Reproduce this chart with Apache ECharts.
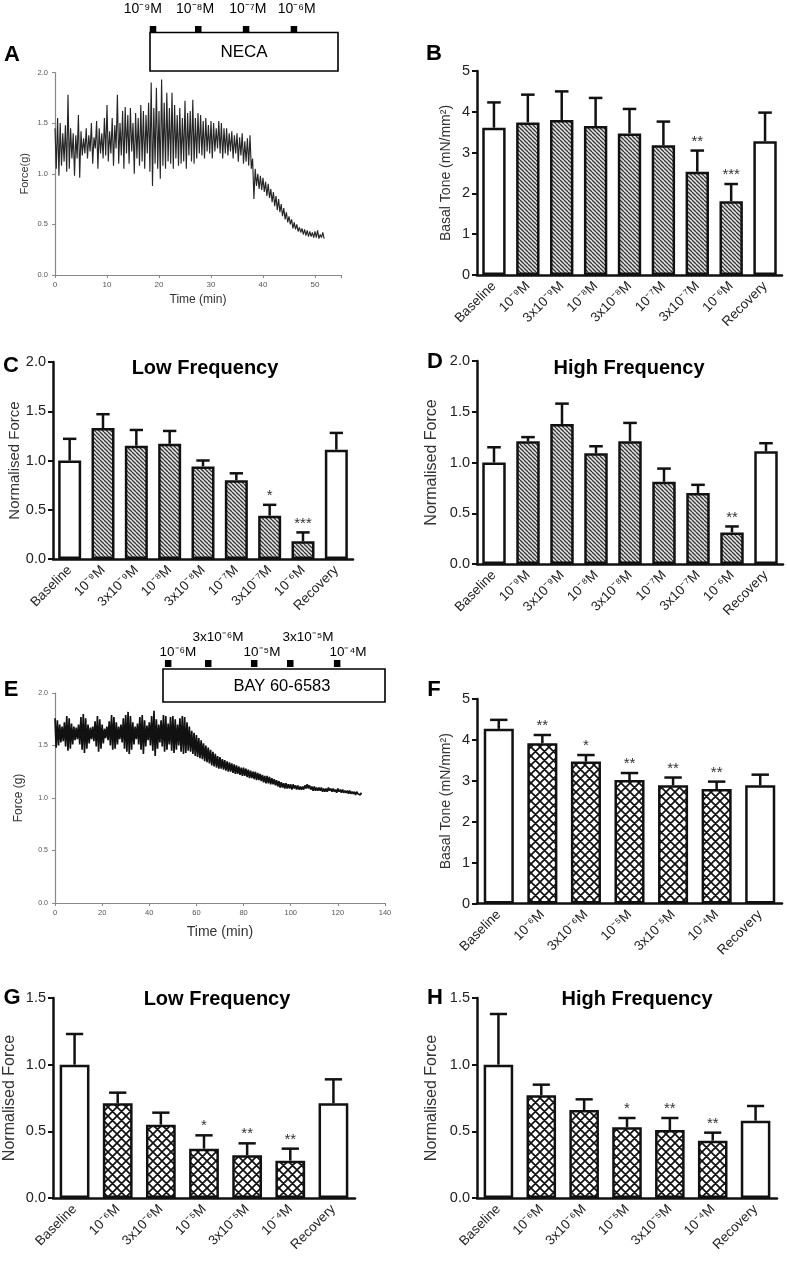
<!DOCTYPE html>
<html>
<head>
<meta charset="UTF-8">
<script src="https://cdn.jsdelivr.net/npm/echarts@6/dist/echarts.min.js"></script>
<style>
  html, body { margin: 0; padding: 0; background: #fff; }
  #main { width: 787px; height: 1262px; }
</style>
</head>
<body>
<div id="main"></div>
<script>
// ---------- data ----------
// A: NECA force trace, one sample every 0.25 min
var traceAStep = 0.25;
var traceAForce = [
  1.45,1.05,1.55,0.98,1.50,1.08,1.40,1.12,
  1.48,1.02,1.78,1.05,1.45,1.15,1.40,0.98,
  1.38,1.15,1.58,0.96,1.42,1.18,1.35,1.20,
  1.45,1.15,1.38,1.22,1.50,1.10,1.36,1.25,
  1.52,1.05,1.45,1.20,1.40,1.15,1.55,1.18,
  1.68,1.12,1.42,1.20,1.55,1.08,1.48,1.25,
  1.78,1.10,1.50,1.18,1.62,1.05,1.66,1.20,
  1.58,1.10,1.65,1.22,1.50,1.00,1.60,1.15,
  1.55,1.08,1.68,1.12,1.62,1.05,1.58,1.20,
  1.70,1.02,1.90,0.88,1.65,1.10,1.85,1.05,
  1.62,0.95,1.93,1.08,1.70,1.05,1.80,1.12,
  1.65,1.10,1.80,1.05,1.68,1.15,1.58,1.08,
  1.65,1.10,1.55,1.12,1.72,1.05,1.60,1.18,
  1.62,1.12,1.73,1.10,1.55,1.15,1.60,1.20,
  1.58,1.18,1.52,1.15,1.55,1.22,1.48,1.20,
  1.52,1.15,1.50,1.22,1.45,1.25,1.52,1.20,
  1.50,1.15,1.45,1.20,1.45,1.18,1.40,1.22,
  1.42,1.15,1.38,1.20,1.40,1.12,1.36,1.18,
  1.40,1.10,1.32,1.12,1.35,1.08,1.38,1.05,
  1.15,0.75,1.05,0.88,1.00,0.85,0.98,0.84,
  0.96,0.82,0.92,0.78,0.90,0.76,0.85,0.72,
  0.82,0.68,0.78,0.64,0.75,0.62,0.70,0.58,
  0.66,0.55,0.62,0.52,0.58,0.50,0.55,0.46,
  0.52,0.45,0.50,0.43,0.47,0.42,0.46,0.40,
  0.45,0.39,0.44,0.38,0.43,0.38,0.42,0.37,
  0.43,0.37,0.44,0.36,0.40,0.37,0.42,0.36
];
// E: BAY 60-6583 force trace, one sample every 0.5 min
var traceEStep = 0.5;
var traceEForce = [
  1.76,1.48,1.74,1.50,1.70,1.53,1.68,1.54,1.72,1.49,
  1.78,1.45,1.76,1.47,1.71,1.51,1.68,1.55,1.67,1.56,
  1.70,1.51,1.77,1.46,1.80,1.43,1.76,1.47,1.70,1.52,
  1.67,1.56,1.68,1.54,1.73,1.49,1.78,1.44,1.75,1.47,
  1.70,1.52,1.66,1.57,1.68,1.55,1.73,1.50,1.79,1.46,
  1.77,1.47,1.72,1.51,1.68,1.56,1.70,1.53,1.76,1.47,
  1.79,1.44,1.82,1.42,1.78,1.46,1.72,1.51,1.68,1.56,
  1.71,1.51,1.77,1.46,1.79,1.42,1.74,1.49,1.69,1.55,
  1.72,1.50,1.78,1.45,1.83,1.40,1.75,1.47,1.70,1.53,
  1.74,1.49,1.79,1.44,1.78,1.46,1.71,1.51,1.77,1.45,
  1.78,1.43,1.75,1.46,1.70,1.50,1.76,1.44,1.78,1.42,
  1.77,1.43,1.72,1.45,1.68,1.44,1.64,1.42,1.62,1.40,
  1.60,1.39,1.57,1.38,1.55,1.37,1.52,1.35,1.50,1.34,
  1.48,1.33,1.46,1.31,1.44,1.30,1.42,1.29,1.40,1.28,
  1.39,1.28,1.37,1.27,1.36,1.26,1.35,1.25,1.34,1.25,
  1.33,1.24,1.32,1.23,1.31,1.23,1.30,1.22,1.29,1.21,
  1.29,1.21,1.28,1.20,1.27,1.19,1.26,1.19,1.25,1.18,
  1.25,1.17,1.24,1.17,1.23,1.16,1.22,1.15,1.21,1.14,
  1.21,1.14,1.20,1.13,1.19,1.13,1.18,1.12,1.17,1.11,
  1.16,1.10,1.15,1.10,1.14,1.09,1.14,1.09,1.13,1.09,
  1.13,1.08,1.13,1.09,1.12,1.08,1.12,1.08,1.11,1.08,
  1.11,1.08,1.12,1.09,1.13,1.09,1.12,1.08,1.11,1.07,
  1.11,1.07,1.10,1.07,1.10,1.07,1.10,1.06,1.09,1.06,
  1.09,1.06,1.10,1.07,1.09,1.06,1.09,1.06,1.08,1.05,
  1.09,1.06,1.08,1.05,1.08,1.05,1.07,1.05,1.07,1.04,
  1.07,1.04,1.06,1.04,1.06,1.03,1.06,1.04,1.05,1.03,
  1.05
];
// drug additions (min)
var necaTimes = [18.8, 27.5, 36.7, 45.9];
var necaLabels = ['10⁻⁹M', '10⁻⁸M', '10⁻⁷M', '10⁻⁶M'];
var bayTimes = [47.9, 64.9, 84.4, 99.7, 119.6];
var bayLabels = ['10⁻⁶M', '3x10⁻⁶M', '10⁻⁵M', '3x10⁻⁵M', '10⁻⁴M'];

// bar panels
var necaCats = ['Baseline', '10⁻⁹M', '3x10⁻⁹M', '10⁻⁸M', '3x10⁻⁸M', '10⁻⁷M', '3x10⁻⁷M', '10⁻⁶M', 'Recovery'];
var toneNeca = [3.61, 3.74, 3.80, 3.65, 3.47, 3.18, 2.53, 1.81, 3.28];
var toneNecaSem = [0.62, 0.68, 0.70, 0.69, 0.60, 0.58, 0.52, 0.42, 0.70];
var toneNecaStars = ['', '', '', '', '', '', '**', '***', ''];
var lowNeca = [1.00, 1.33, 1.15, 1.17, 0.94, 0.80, 0.44, 0.18, 1.11];
var lowNecaSem = [0.22, 0.14, 0.16, 0.13, 0.06, 0.07, 0.11, 0.09, 0.17];
var lowNecaStars = ['', '', '', '', '', '', '*', '***', ''];
var highNeca = [1.00, 1.21, 1.38, 1.09, 1.21, 0.81, 0.70, 0.31, 1.11];
var highNecaSem = [0.15, 0.04, 0.20, 0.07, 0.18, 0.13, 0.08, 0.06, 0.08];
var highNecaStars = ['', '', '', '', '', '', '', '**', ''];

var bayCats = ['Baseline', '10⁻⁶M', '3x10⁻⁶M', '10⁻⁵M', '3x10⁻⁵M', '10⁻⁴M', 'Recovery'];
var toneBay = [4.27, 3.92, 3.47, 3.02, 2.89, 2.80, 2.89];
var toneBaySem = [0.22, 0.20, 0.16, 0.17, 0.19, 0.18, 0.26];
var toneBayStars = ['', '**', '*', '**', '**', '**', ''];
var lowBay = [1.00, 0.71, 0.55, 0.37, 0.32, 0.28, 0.71];
var lowBaySem = [0.23, 0.08, 0.09, 0.10, 0.09, 0.09, 0.18];
var lowBayStars = ['', '', '', '*', '**', '**', ''];
var highBay = [1.00, 0.77, 0.66, 0.53, 0.51, 0.43, 0.58];
var highBaySem = [0.38, 0.08, 0.08, 0.07, 0.09, 0.06, 0.11];
var highBayStars = ['', '', '', '*', '**', '**', ''];

// ---------- styling helpers ----------
var FONT = '"Liberation Sans", Arial, Helvetica, sans-serif';

function makeHatch() {
  var n = 4, c = document.createElement('canvas');
  c.width = c.height = n;
  var g = c.getContext('2d');
  g.fillStyle = '#e0e0e0';
  g.fillRect(0, 0, n, n);
  g.strokeStyle = '#333';
  g.lineWidth = 1.25;
  g.beginPath();
  [-n, 0, n].forEach(function (o) { g.moveTo(o, 0); g.lineTo(o + n, n); });
  g.stroke();
  return c;
}
function makeCross(n) {
  var c = document.createElement('canvas');
  c.width = c.height = n;
  var g = c.getContext('2d');
  g.fillStyle = '#fff';
  g.fillRect(0, 0, n, n);
  g.strokeStyle = '#111';
  g.lineWidth = 1.7;
  g.beginPath();
  [-n, 0, n].forEach(function (o) {
    g.moveTo(o, 0); g.lineTo(o + n, n);
    g.moveTo(o + n, 0); g.lineTo(o, n);
  });
  g.stroke();
  return c;
}
var hatchFill = { image: makeHatch(), repeat: 'repeat' };
var crossFill = { image: makeCross(9), repeat: 'repeat' };

var grids = [
  { left: 55, top: 72.5, width: 286, height: 202.5 },  // A
  { left: 477, top: 71, width: 305, height: 204 },     // B
  { left: 53, top: 362, width: 300, height: 197 },     // C
  { left: 477, top: 361, width: 306, height: 203 },    // D
  { left: 55, top: 693, width: 330, height: 210 },     // E
  { left: 477, top: 699, width: 305, height: 204.5 },  // F
  { left: 53, top: 998, width: 302, height: 200 },     // G
  { left: 477, top: 998, width: 300, height: 200 }     // H
];
grids.forEach(function (g) { g.containLabel = false; g.outerBoundsMode = 'none'; });

var xAxes = [], yAxes = [], series = [];

function traceAxes(gi, xmax, xint, lastLabel, xNameGap, xNameSize, yName, yNameGap, yNameSize, tickSize) {
  xAxes[gi] = {
    gridIndex: gi, type: 'value', min: 0, max: xmax, interval: xint,
    name: 'Time (min)', nameLocation: 'middle', nameGap: xNameGap,
    nameTextStyle: { fontSize: xNameSize, color: '#333', fontFamily: FONT },
    axisLine: { lineStyle: { color: '#888', width: 1.2 } },
    axisTick: { length: 3, lineStyle: { color: '#888' } },
    axisLabel: { fontSize: tickSize, color: '#555', margin: 6, fontFamily: FONT,
      formatter: function (v) { return v > lastLabel ? '' : v; } },
    splitLine: { show: false }
  };
  yAxes[gi] = {
    gridIndex: gi, type: 'value', min: 0, max: 2, interval: 0.5,
    name: yName, nameLocation: 'middle', nameGap: yNameGap,
    nameTextStyle: { fontSize: yNameSize, color: '#333', fontFamily: FONT },
    axisLine: { show: true, lineStyle: { color: '#888', width: 1.2 } },
    axisTick: { show: true, length: 3, lineStyle: { color: '#888' } },
    axisLabel: { fontSize: tickSize - 0.5, color: '#555', margin: 7, fontFamily: FONT,
      formatter: function (v) { return v.toFixed(1); } },
    splitLine: { show: false }
  };
}

function traceSeries(gi, step, vals, color, width) {
  series.push({
    type: 'line', xAxisIndex: gi, yAxisIndex: gi, showSymbol: false, silent: true,
    data: vals.map(function (v, i) { return [i * step, v]; }),
    lineStyle: { color: color, width: width, join: 'bevel' }, z: 3
  });
}

function drugSeries(gi, times, labels, markTop, markH, dx, dy, fontSize) {
  series.push({
    type: 'custom', xAxisIndex: gi, yAxisIndex: gi, clip: false, silent: true, z: 5,
    data: times.map(function (t) { return [t, 2]; }),
    encode: { x: 0, y: 1 },
    renderItem: function (params, api) {
      var p = api.coord([api.value(0), 2]);
      var i = params.dataIndex;
      return { type: 'group', children: [
        { type: 'rect', shape: { x: p[0] - 3, y: p[1] + markTop, width: 6.5, height: markH }, style: { fill: '#000' } },
        { type: 'text', style: { text: labels[i], x: p[0] + dx[i], y: p[1] + dy[i],
          align: 'center', verticalAlign: 'middle', textAlign: 'center', textVerticalAlign: 'middle',
          fontSize: fontSize, fontFamily: FONT, fill: '#000' } }
      ] };
    }
  });
}

function barPanel(gi, cats, mean, sem, stars, fill, ymax, yint, decimals, yName, yNameGap, yNameSize, tickShow, labelSize) {
  xAxes[gi] = {
    gridIndex: gi, type: 'category', data: cats,
    axisLine: { lineStyle: { color: '#111', width: 2.5 } },
    axisTick: { alignWithLabel: true, length: 6, lineStyle: { color: '#111', width: 2 }, interval: tickShow },
    axisLabel: { rotate: 45, interval: 0, fontSize: 13.5, color: '#222', margin: 9, fontFamily: FONT }
  };
  yAxes[gi] = {
    gridIndex: gi, type: 'value', min: 0, max: ymax, interval: yint,
    name: yName, nameLocation: 'middle', nameGap: yNameGap,
    nameTextStyle: { fontSize: yNameSize, color: '#333', fontFamily: FONT },
    axisLine: { show: true, lineStyle: { color: '#111', width: 2.5 } },
    axisTick: { show: true, length: 5, lineStyle: { color: '#111', width: 2 } },
    axisLabel: { fontSize: labelSize, color: '#222', margin: 7, fontFamily: FONT,
      formatter: function (v) { return v.toFixed(decimals); } },
    splitLine: { show: false }
  };
  series.push({
    type: 'bar', xAxisIndex: gi, yAxisIndex: gi, barWidth: '69%', silent: true, z: 2,
    data: mean.map(function (v, i) {
      var plain = i === 0 || i === mean.length - 1;
      return { value: v, itemStyle: { color: plain ? '#fff' : fill, borderColor: '#111', borderWidth: 2.5 } };
    })
  });
  series.push({
    type: 'custom', xAxisIndex: gi, yAxisIndex: gi, silent: true, clip: false, z: 4,
    data: mean.map(function (v, i) { return [i, v, v + sem[i]]; }),
    encode: { x: 0, y: [1, 2] },
    renderItem: function (params, api) {
      var i = api.value(0);
      var base = api.coord([i, api.value(1)]);
      var top = api.coord([i, api.value(2)]);
      var half = api.size([1, 0])[0] * 0.2;
      var ls = { stroke: '#111', lineWidth: 2.5 };
      var kids = [
        { type: 'line', shape: { x1: base[0], y1: base[1], x2: top[0], y2: top[1] }, style: ls },
        { type: 'line', shape: { x1: top[0] - half, y1: top[1], x2: top[0] + half, y2: top[1] }, style: ls }
      ];
      var s = stars[params.dataIndex];
      if (s) {
        kids.push({ type: 'text', style: { text: s, x: top[0], y: top[1] - 9,
          align: 'center', verticalAlign: 'middle', textAlign: 'center', textVerticalAlign: 'middle',
          fontSize: 15, fontFamily: FONT, fill: '#333' } });
      }
      return { type: 'group', children: kids };
    }
  });
}

function every() { return true; }
function only(k) { return function (i) { return i === k; }; }

// A and E traces
traceAxes(0, 55, 10, 50, 19, 12, 'Force(g)', 25, 11, 8);
traceSeries(0, traceAStep, traceAForce, '#262626', 1.15);
drugSeries(0, necaTimes, necaLabels, -46.5, 6.5, [-10, -3, 2, 3], [-63, -63, -63, -63], 14);

traceAxes(4, 140, 20, 140, 22, 14, 'Force (g)', 30, 12, 7.5);
traceSeries(4, traceEStep, traceEForce, '#111', 1.7);
drugSeries(4, bayTimes, bayLabels, -33, 7, [10, 10, 8, 18, 11], [-41, -56, -41, -56, -41], 13.5);

// bar panels
barPanel(1, necaCats, toneNeca, toneNecaSem, toneNecaStars, hatchFill, 5, 1, 0, 'Basal Tone (mN/mm²)', 24, 14, every, 14.5);
barPanel(2, necaCats, lowNeca, lowNecaSem, lowNecaStars, hatchFill, 2, 0.5, 1, 'Normalised Force', 31, 15, only(4), 14.5);
barPanel(3, necaCats, highNeca, highNecaSem, highNecaStars, hatchFill, 2, 0.5, 1, 'Normalised Force', 37, 16, only(4), 14.5);
barPanel(5, bayCats, toneBay, toneBaySem, toneBayStars, crossFill, 5, 1, 0, 'Basal Tone (mN/mm²)', 24, 14, every, 14.5);
barPanel(6, bayCats, lowBay, lowBaySem, lowBayStars, crossFill, 1.5, 0.5, 1, 'Normalised Force', 35, 16, every, 14.5);
barPanel(7, bayCats, highBay, highBaySem, highBayStars, crossFill, 1.5, 0.5, 1, 'Normalised Force', 37, 16, only(3), 14.5);

// ---------- free text and drug boxes ----------
function txt(s, x, y, size, bold) {
  return { type: 'text', x: x, y: y, z: 10, silent: true,
    style: { text: s, fontSize: size, fontWeight: bold ? 'bold' : 'normal', fontFamily: FONT, fill: '#000',
      align: 'center', verticalAlign: 'middle', textAlign: 'center', textVerticalAlign: 'middle' } };
}
var graphics = [
  { type: 'rect', shape: { x: 150, y: 32.5, width: 188, height: 38.5 }, style: { fill: '#fff', stroke: '#000', lineWidth: 1.6 }, z: 1 },
  txt('NECA', 244, 52, 17, false),
  { type: 'rect', shape: { x: 163, y: 669, width: 222, height: 33 }, style: { fill: '#fff', stroke: '#000', lineWidth: 1.6 }, z: 1 },
  txt('BAY 60-6583', 282, 686, 16.5, false),
  txt('A', 12, 55, 22, true), txt('B', 434, 54, 22, true),
  txt('C', 11, 366, 22, true), txt('D', 435, 362, 22, true),
  txt('E', 11, 690, 22, true), txt('F', 434, 690, 22, true),
  txt('G', 12, 998, 22, true), txt('H', 435, 998, 22, true),
  txt('Low Frequency', 205, 368, 20, true), txt('High Frequency', 629, 368, 20, true),
  txt('Low Frequency', 217, 999, 20, true), txt('High Frequency', 637, 999, 20, true)
];

var chart = echarts.init(document.getElementById('main'), null, { renderer: 'canvas' });
chart.setOption({
  backgroundColor: '#fff',
  animation: false,
  textStyle: { fontFamily: FONT },
  grid: grids,
  xAxis: xAxes,
  yAxis: yAxes,
  series: series,
  graphic: graphics
});
</script>
</body>
</html>
